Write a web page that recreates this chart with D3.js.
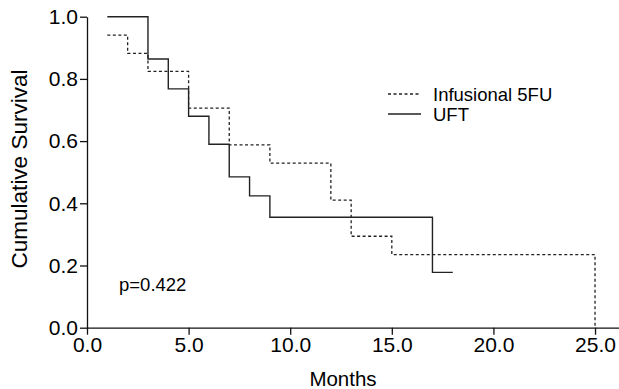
<!DOCTYPE html>
<html>
<head>
<meta charset="utf-8">
<script src="https://cdn.jsdelivr.net/npm/d3@7"></script>
<style>
  body { margin: 0; background: #fff; }
  text { font-family: Arial, "Liberation Sans", sans-serif; fill: #000; }
</style>
</head>
<body>
<div id="chart"></div>
<script>
// Kaplan-Meier steps
var uftMonths = [1, 3, 4, 5, 6, 7, 8, 9, 17, 18];
var uftSurv   = [1.0, 0.864, 0.768, 0.68, 0.59, 0.485, 0.424, 0.355, 0.178, 0.178];
var fuMonths  = [1, 2, 3, 5, 7, 9, 12, 13, 15, 25];
var fuSurv    = [0.941, 0.882, 0.824, 0.706, 0.588, 0.529, 0.41, 0.294, 0.235, 0];
var xTicks = [0, 5, 10, 15, 20, 25];
var yTicks = [0, 0.2, 0.4, 0.6, 0.8, 1.0];

var W = 619, H = 389;

var svg = d3.select("#chart")
  .append("svg")
    .attr("width", W)
    .attr("height", H);

// scales
var x = d3.scaleLinear().domain([0, 26.18]).range([87, 619]);
var y = d3.scaleLinear().domain([0, 1]).range([327.7, 16.7]);

// axes
var xAxis = svg.append("g")
    .attr("transform", "translate(0," + y(0) + ")")
    .call(d3.axisBottom(x).tickValues(xTicks).tickFormat(d3.format(".1f"))
      .tickSize(7).tickSizeOuter(0).tickPadding(2));
var yAxis = svg.append("g")
    .attr("transform", "translate(" + x(0) + ",0)")
    .call(d3.axisLeft(y).tickValues(yTicks).tickFormat(d3.format(".1f"))
      .tickSize(7).tickSizeOuter(0).tickPadding(2));

[xAxis, yAxis].forEach(function(a) {
  a.selectAll("path, line").attr("stroke", "#111").attr("stroke-width", 1.3);
  a.selectAll("text").attr("font-size", "21px")
    .attr("font-family", "Arial, 'Liberation Sans', sans-serif").attr("fill", "#000");
});

// step lines
var line = d3.line()
    .x(function(d) { return x(d[0]); })
    .y(function(d) { return y(d[1]); })
    .curve(d3.curveStepAfter);

svg.append("path")
    .datum(d3.zip(fuMonths, fuSurv))
    .attr("d", line)
    .attr("fill", "none")
    .attr("stroke", "#222")
    .attr("stroke-width", 1.3)
    .attr("stroke-dasharray", "3,2.5");

svg.append("path")
    .datum(d3.zip(uftMonths, uftSurv))
    .attr("d", line)
    .attr("fill", "none")
    .attr("stroke", "#222")
    .attr("stroke-width", 1.4);

// legend
var legend = [
  {name: "Infusional 5FU", dash: "3,2.5", y: 94},
  {name: "UFT", dash: null, y: 114}
];
legend.forEach(function(d) {
  svg.append("line")
      .attr("x1", 388).attr("x2", 421)
      .attr("y1", d.y).attr("y2", d.y)
      .attr("stroke", "#222")
      .attr("stroke-width", 1.3)
      .attr("stroke-dasharray", d.dash);
  svg.append("text")
      .attr("x", 433)
      .attr("y", d.y + 6.5)
      .attr("font-size", "18.5px")
      .text(d.name);
});

// p value
svg.append("text")
    .attr("x", 119)
    .attr("y", 291)
    .attr("font-size", "18.5px")
    .text("p=0.422");

// axis labels
svg.append("text")
    .attr("text-anchor", "middle")
    .attr("transform", "translate(27,169) rotate(-90)")
    .attr("font-size", "22.5px")
    .text("Cumulative Survival");

svg.append("text")
    .attr("text-anchor", "middle")
    .attr("x", 343)
    .attr("y", 386)
    .attr("font-size", "20.5px")
    .text("Months");
</script>
</body>
</html>
